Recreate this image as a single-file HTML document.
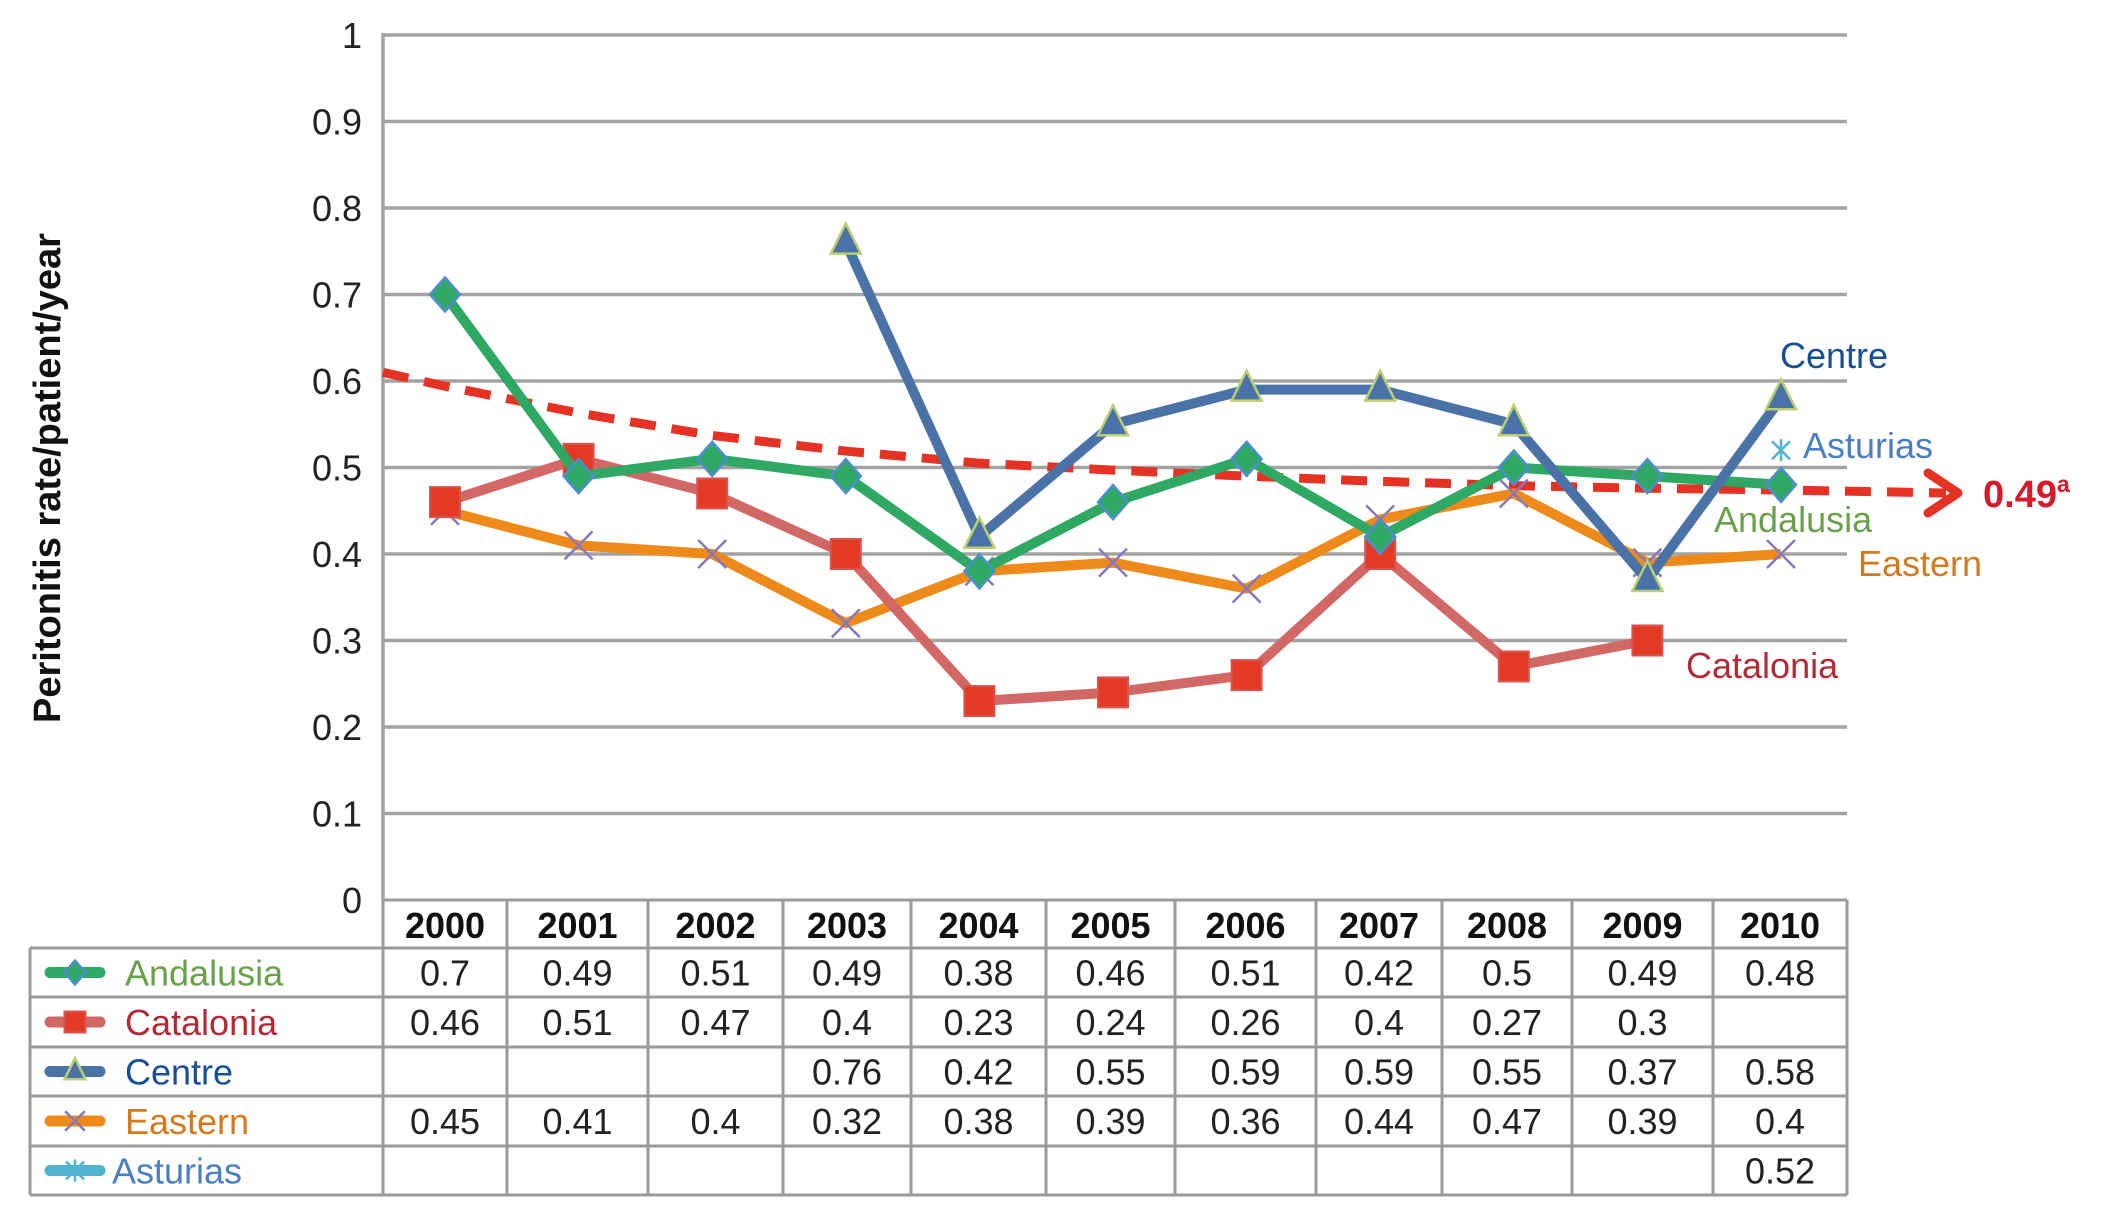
<!DOCTYPE html>
<html><head><meta charset="utf-8"><style>
html,body{margin:0;padding:0;background:#fff;}
svg{display:block;font-family:"Liberation Sans",sans-serif;}
</style></head><body>
<svg id="chart" width="2110" height="1209" viewBox="0 0 2110 1209" xmlns="http://www.w3.org/2000/svg">
<g id="grid"></g>
<g id="yticks"></g>
<text transform="translate(60,478) rotate(-90)" text-anchor="middle" font-size="38" font-weight="bold" fill="#111">Peritonitis rate/patient/year</text>
<g id="trend"></g>
<g id="series"></g>
<g id="table"></g>
<g id="labels"></g>
</svg>
<script>
const years = ["2000","2001","2002","2003","2004","2005","2006","2007","2008","2009","2010"];
const andalusia = [0.7,0.49,0.51,0.49,0.38,0.46,0.51,0.42,0.5,0.49,0.48];
const catalonia = [0.46,0.51,0.47,0.4,0.23,0.24,0.26,0.4,0.27,0.3,null];
const centre = [null,null,null,0.76,0.42,0.55,0.59,0.59,0.55,0.37,0.58];
const eastern = [0.45,0.41,0.4,0.32,0.38,0.39,0.36,0.44,0.47,0.39,0.4];
const asturias = [null,null,null,null,null,null,null,null,null,null,0.52];
const trendValues = [0.594,0.563,0.537,0.519,0.505,0.497,0.49,0.484,0.479,0.476,0.474];
const trendStart = 0.61;
const trendEnd = 0.4705;
const trendLabel = "0.49";
const yTicks = [0,0.1,0.2,0.3,0.4,0.5,0.6,0.7,0.8,0.9,1];
const yTickLabels = ["0","0.1","0.2","0.3","0.4","0.5","0.6","0.7","0.8","0.9","1"];

const NS="http://www.w3.org/2000/svg";
const X0=383, X1=1847, Y0=900, YH=865;
const xc = i => 445 + 133.6*i;
const yv = v => Y0 - v*YH;
function mk(tag, attrs, parent){const e=document.createElementNS(NS,tag);for(const k in attrs)e.setAttribute(k,attrs[k]);parent.appendChild(e);return e;}
const grid=document.getElementById('grid'), yt=document.getElementById('yticks');
yTicks.forEach((t,i)=>{
  if(t>0){const l=mk('line',{x1:X0,x2:X1,y1:yv(t),y2:yv(t),stroke:'#a3a3a3','stroke-width':3.5},grid);
  
  }
  const tx=mk('text',{x:362,y:yv(t)+13,'text-anchor':'end','font-size':36,fill:'#222'},yt);
  tx.textContent=yTickLabels[i];
  
  
});
const ax=mk('line',{x1:X0,x2:X0,y1:yv(1)-2,y2:Y0,stroke:'#a3a3a3','stroke-width':3.5},grid);



const tr=document.getElementById('trend');
let pts=[[X0,yv(trendStart)]];
trendValues.forEach((v,i)=>pts.push([xc(i),yv(v)]));
const tipX=1958; pts.push([tipX-12,yv(trendEnd)]);
let d='M'+pts.map(p=>p[0]+','+p[1]).join(' L');
const tp=mk('path',{d:d,fill:'none',stroke:'#e63224','stroke-width':9,'stroke-dasharray':'26,16'},tr);


const ah=mk('path',{d:`M${tipX-30},${yv(trendEnd)-20} L${tipX},${yv(trendEnd)} L${tipX-30},${yv(trendEnd)+20}`,fill:'none',stroke:'#e63224','stroke-width':9,'stroke-linecap':'round','stroke-linejoin':'round'},tr);


const tl=mk('text',{x:1983,y:yv(trendEnd)+14,'font-size':38,'font-weight':'bold',fill:'#d7192b'},tr);
tl.textContent=trendLabel;


const sup=mk('tspan',{'font-size':23,dy:-15},tl);sup.textContent='a';

function marker(type,x,y,g,small){
  const s=small?0.7:1;let e;
  if(type==='diamond') e=mk('path',{d:`M${x},${y-17*s} L${x+15*s},${y} L${x},${y+17*s} L${x-15*s},${y}Z`,fill:'#2fa863',stroke:'#4c8ed0','stroke-width':2.5},g);
  else if(type==='square') e=mk('rect',{x:x-15*s,y:y-15*s,width:30*s,height:30*s,fill:'#e33a26',stroke:'#d9544e','stroke-width':2},g);
  else if(type==='triangle') e=mk('path',{d:`M${x},${y-19*s} L${x+15*s},${y+11*s} L${x-15*s},${y+11*s}Z`,fill:'#4a72a6',stroke:'#b9cf73','stroke-width':2.5},g);
  else if(type==='x') e=mk('path',{d:`M${x-14*s},${y-14*s} L${x+14*s},${y+14*s} M${x+14*s},${y-14*s} L${x-14*s},${y+14*s}`,stroke:'#8877bb','stroke-width':2.5,fill:'none'},g);
  else e=mk('path',{d:`M${x-9},${y-9} L${x+9},${y+9} M${x+9},${y-9} L${x-9},${y+9} M${x},${y-11} L${x},${y+11}`,stroke:'#4fb4cf','stroke-width':2.5,fill:'none'},g);
  return e;
}
const seriesDefs=[
 {name:'eastern',data:eastern,color:'#ee8a1a',m:'x'},
 {name:'catalonia',data:catalonia,color:'#d26866',m:'square'},
 {name:'andalusia',data:andalusia,color:'#2fa863',m:'diamond'},
 {name:'centre',data:centre,color:'#4a72a6',m:'triangle'},
 {name:'asturias',data:asturias,color:'#4fb4cf',m:'star'}];
const sg=document.getElementById('series');
seriesDefs.forEach(s=>{
  const g=mk('g',{},sg);
  
  
  const p=[];s.data.forEach((v,i)=>{if(v!==null)p.push([xc(i),yv(v)]);});
  if(p.length>1){const l=mk('path',{d:'M'+p.map(q=>q.join(',')).join(' L'),fill:'none',stroke:s.color,'stroke-width':10,'stroke-linejoin':'round'},g);
  
  }
  p.forEach(q=>{const m=marker(s.m,q[0],q[1],g);
  
  });
});

const tb=document.getElementById('table');
const colB=[383,507,648,783,911,1046,1175,1316,1442,1572,1713,1847];
const rowB=[900,948,997,1047,1096,1146,1195];
const TL=30, lc='#9a9a9a';
function ln(x1,y1,x2,y2){const l=mk('line',{x1,y1,x2,y2,stroke:lc,'stroke-width':3},tb);}
ln(X0,rowB[0],X1,rowB[0]);
for(let r=1;r<rowB.length;r++) ln(TL,rowB[r],X1,rowB[r]);
ln(TL,rowB[1],TL,rowB[6]);
colB.forEach(x=>ln(x,rowB[0],x,rowB[6]));
years.forEach((yr,i)=>{const t=mk('text',{x:(colB[i]+colB[i+1])/2,y:rowB[0]+38,'text-anchor':'middle','font-size':36,'font-weight':'bold',fill:'#111'},tb);t.textContent=yr;
 
 });
const rows=[
 {label:'Andalusia',data:andalusia,color:'#2fa863',tc:'#6a9f4c',m:'diamond'},
 {label:'Catalonia',data:catalonia,color:'#d26866',tc:'#b12a36',m:'square'},
 {label:'Centre',data:centre,color:'#4a72a6',tc:'#174f96',m:'triangle'},
 {label:'Eastern',data:eastern,color:'#ee8a1a',tc:'#d47a1e',m:'x'},
 {label:'Asturias',data:asturias,color:'#4fb4cf',tc:'#4a7fc4',m:'star'}];
rows.forEach((r,ri)=>{
  const cy=(rowB[ri+1]+rowB[ri+2])/2;
  const g=mk('g',{},tb);
  
  
  mk('line',{x1:50,x2:100,y1:cy,y2:cy,stroke:r.color,'stroke-width':11,'stroke-linecap':'round'},g);
  marker(r.m,75,cy,g,true);
  const t=mk('text',{x:ri===4?112:125,y:cy+13,'font-size':36,fill:r.tc},g);t.textContent=r.label;
  r.data.forEach((v,i)=>{if(v===null)return;const c=mk('text',{x:(colB[i]+colB[i+1])/2,y:cy+13,'text-anchor':'middle','font-size':36,fill:'#222'},tb);c.textContent=String(v);
   
   });
});

const lb=document.getElementById('labels');
[['Centre',1780,368,'#174f96'],['Asturias',1803,458,'#4a7fc4'],['Andalusia',1714,532,'#6a9f4c'],['Eastern',1858,576,'#d47a1e'],['Catalonia',1686,678,'#b12a36']].forEach(a=>{
 const t=mk('text',{x:a[1],y:a[2],'font-size':36,fill:a[3]},lb);t.textContent=a[0];
 
 });
</script>
</body></html>
